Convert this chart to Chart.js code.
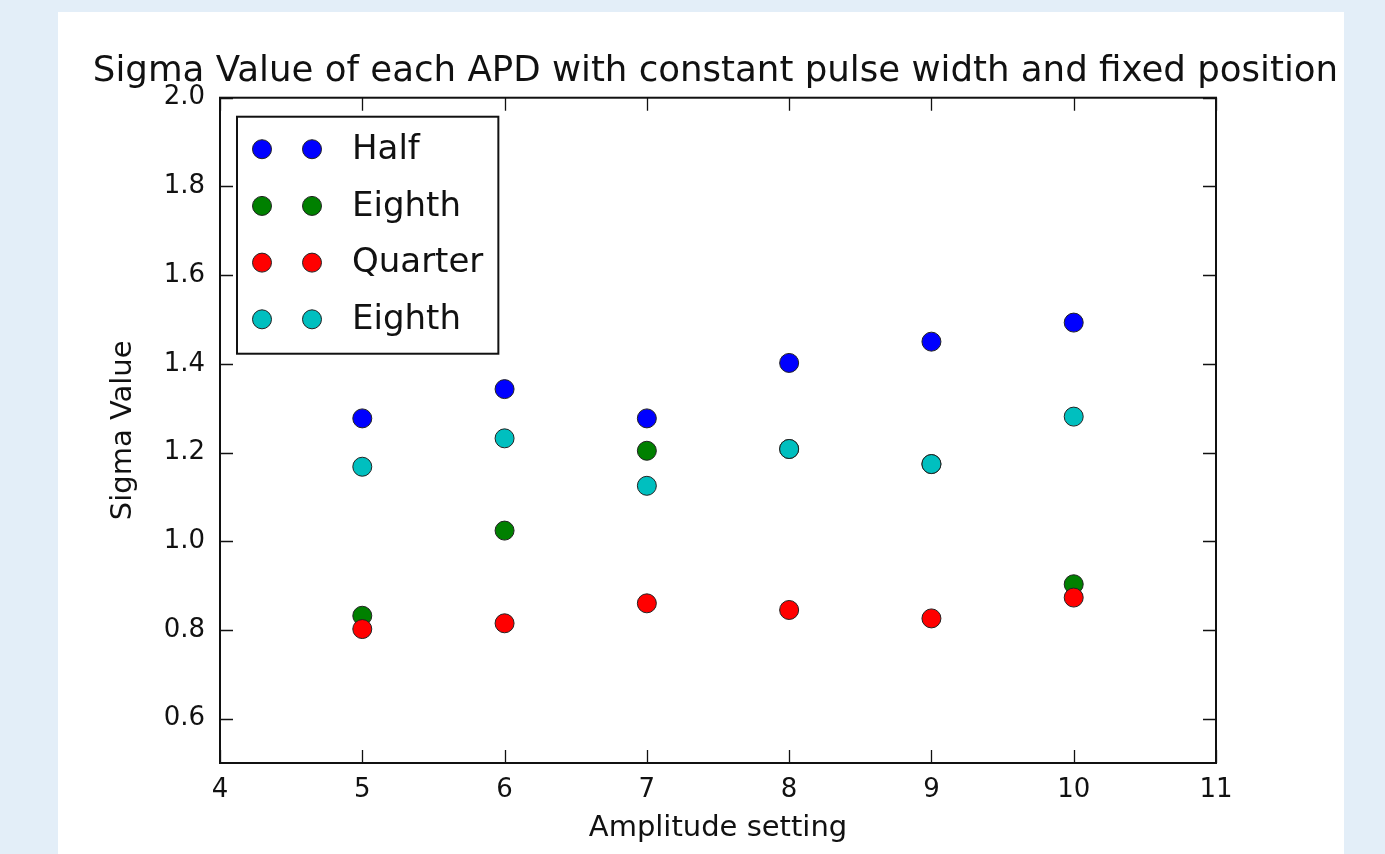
<!DOCTYPE html>
<html>
<head>
<meta charset="utf-8">
<script src="https://cdn.jsdelivr.net/npm/chart.js@4"></script>
<style>
  body { margin: 0; background: #e3eef8; }
  #panel { position: absolute; left: 58px; top: 12px; width: 1286px; height: 842px; background: #fff; }
</style>
</head>
<body>
<div id="panel"><canvas id="c" width="1286" height="842"></canvas></div>
<script>
const amplitudes = [5, 6, 7, 8, 9, 10];
const half = [1.277, 1.343, 1.277, 1.402, 1.450, 1.493];
const eighthGreen = [0.832, 1.024, 1.204, 1.208, 1.174, 0.903];
const quarter = [0.802, 0.815, 0.860, 0.845, 0.826, 0.873];
const eighthCyan = [1.168, 1.232, 1.125, 1.208, 1.174, 1.281];
const xTicks = [4, 5, 6, 7, 8, 9, 10, 11];
const yTicks = [0.6, 0.8, 1.0, 1.2, 1.4, 1.6, 1.8, 2.0];

const series = [
  { label: 'Half', values: half, color: '#0000ff' },
  { label: 'Eighth', values: eighthGreen, color: '#008000' },
  { label: 'Quarter', values: quarter, color: '#ff0000' },
  { label: 'Eighth', values: eighthCyan, color: '#00bfbf' },
];

const FONT = 'DejaVu Sans';
const INK = '#111';

// frame, inward ticks on all four sides, and the two-marker legend
const mplLook = {
  id: 'mplLook',
  afterDatasetsDraw(chart) {
    const { ctx, chartArea: a, scales } = chart;
    ctx.save();
    ctx.strokeStyle = INK;
    ctx.lineWidth = 1.3;
    const tl = 13;
    scales.x.ticks.forEach(t => {
      const px = Math.round(scales.x.getPixelForValue(t.value)) + 0.5;
      ctx.beginPath();
      ctx.moveTo(px, a.bottom); ctx.lineTo(px, a.bottom - tl);
      ctx.moveTo(px, a.top); ctx.lineTo(px, a.top + tl);
      ctx.stroke();
    });
    scales.y.ticks.forEach(t => {
      const py = Math.round(scales.y.getPixelForValue(t.value)) + 0.5;
      ctx.beginPath();
      ctx.moveTo(a.left, py); ctx.lineTo(a.left + tl, py);
      ctx.moveTo(a.right, py); ctx.lineTo(a.right - tl, py);
      ctx.stroke();
    });
    ctx.lineWidth = 2;
    ctx.strokeRect(a.left, a.top, a.right - a.left, a.bottom - a.top);

    // legend
    const sets = chart.data.datasets;
    ctx.font = '34px "' + FONT + '"';
    let maxW = 0;
    sets.forEach(d => { maxW = Math.max(maxW, ctx.measureText(d.label).width); });
    const bx = a.left + 17, by = a.top + 19;
    const textX = a.left + 132;
    const bw = textX + maxW + 15 - bx;
    const bh = 237;
    ctx.fillStyle = '#fff';
    ctx.fillRect(bx, by, bw, bh);
    ctx.strokeRect(bx, by, bw, bh);
    sets.forEach((d, i) => {
      const cy = a.top + 51.5 + i * 56.7;
      [a.left + 42, a.left + 92].forEach(mx => {
        ctx.beginPath();
        ctx.arc(mx, cy, 9.5, 0, Math.PI * 2);
        ctx.fillStyle = d.backgroundColor;
        ctx.fill();
        ctx.lineWidth = 1;
        ctx.strokeStyle = '#222';
        ctx.stroke();
      });
      ctx.fillStyle = INK;
      ctx.textBaseline = 'middle';
      ctx.textAlign = 'left';
      ctx.fillText(d.label, textX, cy + 1);
    });
    ctx.restore();
  }
};

new Chart(document.getElementById('c'), {
  type: 'scatter',
  data: {
    datasets: series.map((s, i) => ({
      label: s.label,
      data: amplitudes.map((x, j) => ({ x: x, y: s.values[j] })),
      backgroundColor: s.color,
      borderColor: '#222',
      pointRadius: 9.5,
      pointHoverRadius: 9.5,
      pointBorderWidth: 1,
      order: series.length - i,
    })),
  },
  options: {
    responsive: false,
    animation: false,
    layout: { padding: { left: 29, right: 0, top: 0, bottom: 0 } },
    plugins: {
      legend: { display: false },
      tooltip: { enabled: false },
      title: {
        display: true,
        text: 'Sigma Value of each APD with constant pulse width and fixed position',
        color: INK,
        font: { family: FONT, size: 35.6, weight: 'normal' },
        padding: { top: 38, bottom: 5 },
      },
    },
    scales: {
      x: {
        type: 'linear',
        min: 4,
        max: 11,
        afterBuildTicks: s => { s.ticks = xTicks.map(v => ({ value: v })); },
        afterFit: s => { s.height = 91; },
        grid: { display: false, drawTicks: false },
        border: { display: false },
        ticks: {
          padding: 12,
          color: INK,
          font: { family: FONT, size: 26 },
          callback: v => String(v),
        },
        title: {
          display: true,
          text: 'Amplitude setting',
          color: INK,
          font: { family: FONT, size: 29 },
          padding: { top: 0, bottom: 8 },
        },
      },
      y: {
        type: 'linear',
        min: 0.5,
        max: 2.0,
        afterBuildTicks: s => { s.ticks = yTicks.map(v => ({ value: v })); },
        afterFit: s => { s.width = 133; },
        grid: { display: false, drawTicks: false },
        border: { display: false },
        ticks: {
          padding: 15,
          color: INK,
          font: { family: FONT, size: 26 },
          callback: v => v.toFixed(1),
        },
        title: {
          display: true,
          text: 'Sigma Value',
          color: INK,
          font: { family: FONT, size: 29 },
          padding: { top: 19, bottom: 0 },
        },
      },
      // empty right-hand strip so the plot stops where the reference frame does
      yRight: {
        type: 'linear',
        position: 'right',
        afterFit: s => { s.width = 128; },
        grid: { display: false, drawTicks: false },
        border: { display: false },
        ticks: { display: false },
      },
    },
  },
  plugins: [mplLook],
});
</script>
</body>
</html>
